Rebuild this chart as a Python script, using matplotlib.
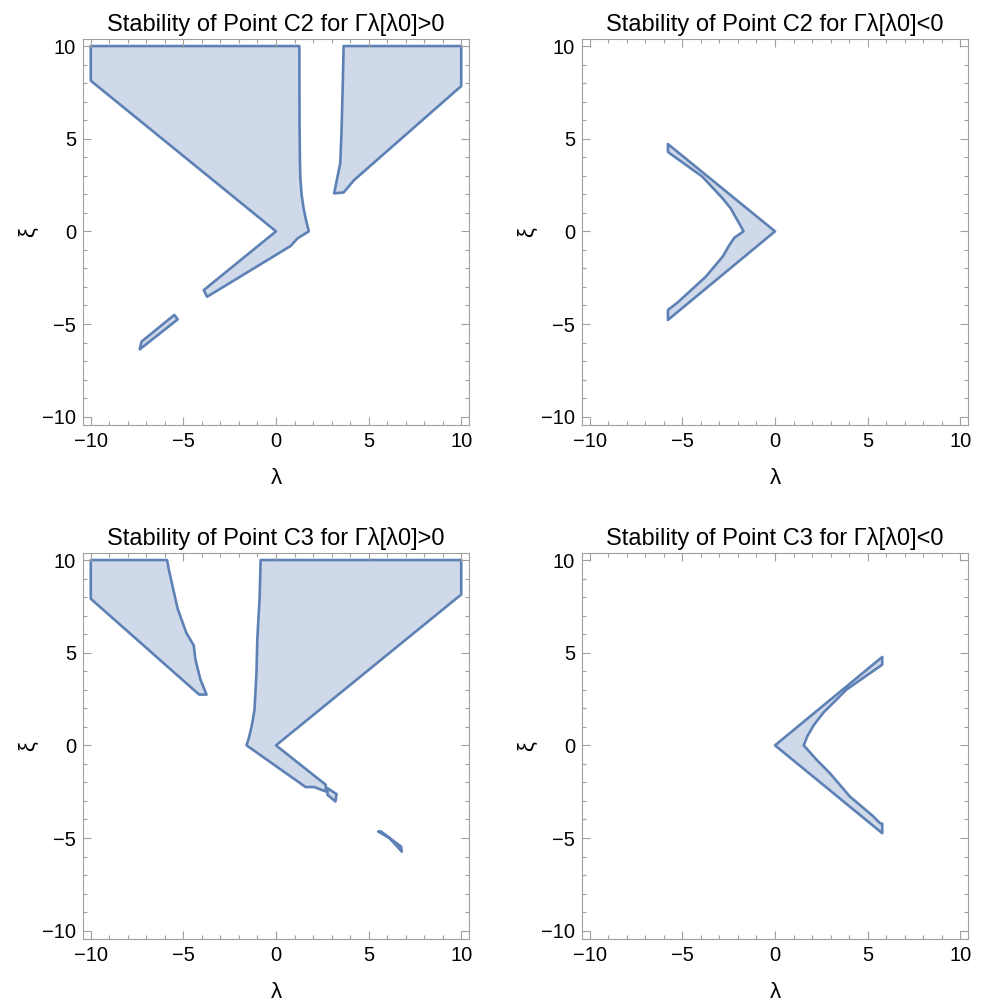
import matplotlib.pyplot as plt
from matplotlib.patches import Polygon
from matplotlib.ticker import MultipleLocator

plt.rcParams['font.family'] = ['Liberation Sans', 'DejaVu Sans']

# regions (lambda, xi) vertices
c2_pos_a = [(-10, 10), (1.26, 10), (1.27, 6.0), (1.29, 4.0), (1.31, 2.95), (1.38, 2.0),
            (1.48, 1.3), (1.6, 0.7), (1.77, 0), (1.16, -0.38), (0.79, -0.79),
            (-3.72, -3.53), (-3.9, -3.17), (0, 0), (-10, 8.13), (-10, 8.4)]
c2_pos_b = [(3.65, 10), (10, 10), (10, 7.84), (4.22, 2.77), (3.65, 2.1), (3.14, 2.05),
            (3.32, 2.95), (3.47, 3.67), (3.54, 5.47), (3.61, 8.17)]
c2_pos_c = [(-7.36, -6.37), (-7.26, -5.95), (-5.49, -4.51), (-5.31, -4.75)]

c2_neg = [(-5.78, 4.71), (0, 0), (-5.78, -4.78), (-5.78, -4.24), (-5.27, -3.85),
          (-3.74, -2.45), (-2.83, -1.37), (-2.5, -0.8), (-2.2, -0.35), (-1.7, 0),
          (-2.0, 0.55), (-2.4, 1.25), (-2.83, 1.78), (-3.92, 2.95), (-5.72, 4.24),
          (-5.78, 4.3)]

c3_pos_a = [(-10, 10), (-5.88, 10), (-5.79, 9.5), (-5.31, 7.37), (-4.84, 6.07),
            (-4.44, 5.39), (-4.35, 4.63), (-4.08, 3.55), (-3.75, 2.74), (-4.15, 2.74),
            (-10, 7.91), (-10, 8.45)]
c3_pos_b = [(-0.83, 10), (10, 10), (10, 8.14), (0, 0), (2.69, -2.13), (2.69, -2.49),
            (2.06, -2.25), (1.6, -2.25), (-1.59, 0), (-1.45, 0.45), (-1.3, 1.1),
            (-1.16, 1.93), (-1.05, 4.0), (-1.01, 5.71), (-0.88, 8.05)]
c3_pos_c = [(2.78, -2.31), (3.27, -2.63), (3.21, -3.03), (2.78, -2.67)]
c3_pos_d = [(5.52, -4.65), (5.67, -4.65), (6.75, -5.46), (6.79, -5.73), (6.12, -5.0)]

c3_neg = [(0, 0), (5.79, 4.77), (5.79, 4.36), (5.67, 4.27), (3.86, 3.01), (2.6, 1.75),
          (2.1, 1.1), (1.75, 0.5), (1.55, 0), (2.24, -0.77), (2.96, -1.5), (4.04, -2.76),
          (5.27, -3.8), (5.67, -4.2), (5.79, -4.23), (5.79, -4.74)]

titles = ["Stability of Point C2 for Γλ[λ0]>0", "Stability of Point C2 for Γλ[λ0]<0",
          "Stability of Point C3 for Γλ[λ0]>0", "Stability of Point C3 for Γλ[λ0]<0"]
regions = [[c2_pos_a, c2_pos_b, c2_pos_c], [c2_neg],
           [c3_pos_a, c3_pos_b, c3_pos_c, c3_pos_d], [c3_neg]]

fill = '#cfd9e9'
edge = '#5e81b5'
frame = '#a0a0a0'

fig = plt.figure(figsize=(9.81, 10.01), dpi=100)
W, H = 981, 1001
boxes = [(83, 39), (582, 39), (83, 553), (582, 553)]

for (x0, y0), title, polys in zip(boxes, titles, regions):
    ax = fig.add_axes([x0 / W, 1 - (y0 + 386) / H, 386 / W, 386 / H])
    for p in polys:
        ax.add_patch(Polygon(p, closed=True, facecolor=fill, edgecolor=edge,
                             linewidth=1.9, joinstyle='round'))
    ax.set_xlim(-10.42, 10.42)
    ax.set_ylim(-10.45, 10.38)
    ax.xaxis.set_major_locator(MultipleLocator(5))
    ax.yaxis.set_major_locator(MultipleLocator(5))
    ax.xaxis.set_minor_locator(MultipleLocator(1))
    ax.yaxis.set_minor_locator(MultipleLocator(1))
    ax.tick_params(which='both', direction='in', top=True, right=True,
                   color=frame, width=0.8, labelsize=14.5, pad=5)
    ax.tick_params(which='major', length=6)
    ax.tick_params(which='minor', length=3)
    ax.tick_params(labeltop=False, labelright=False)
    for s in ax.spines.values():
        s.set_color(frame)
        s.set_linewidth(0.8)
    ax.set_title(title, fontsize=17, pad=6)
    ax.set_xlabel('λ', fontsize=16, labelpad=12)
    ax.set_ylabel('ξ', fontsize=16, labelpad=2)

fig.savefig('out.png', dpi=100)
